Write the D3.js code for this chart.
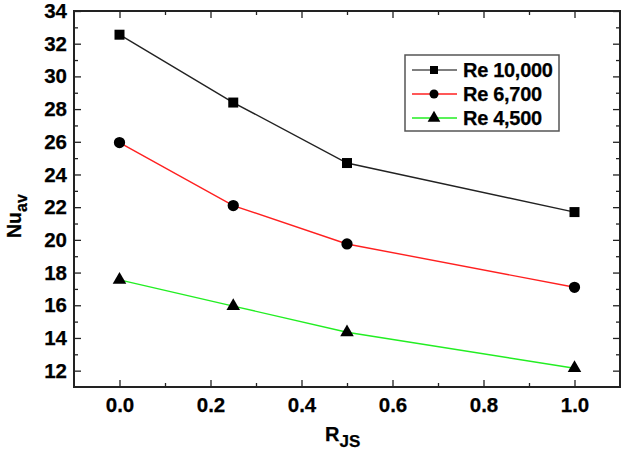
<!DOCTYPE html>
<html>
<head>
<meta charset="utf-8">
<script src="https://cdn.jsdelivr.net/npm/d3@7"></script>
<style>
  body { margin: 0; background: #fff; }
  text { font-family: "Liberation Sans", Arial, sans-serif; font-weight: bold; fill: #000; stroke: #000; stroke-width: 0.25px; }
</style>
</head>
<body>
<div id="chart"></div>
<script>
// data
const rjs = [0.0, 0.25, 0.5, 1.0];
const re10000 = [32.55, 28.4, 24.7, 21.7];
const re6700 = [25.95, 22.1, 19.75, 17.1];
const re4500 = [17.55, 15.95, 14.35, 12.15];
const seriesNames = ['Re 10,000', 'Re 6,700', 'Re 4,500'];
const xTicks = [0.0, 0.2, 0.4, 0.6, 0.8, 1.0];
const xMinor = [0.1, 0.3, 0.5, 0.7, 0.9];
const yTicks = [12, 14, 16, 18, 20, 22, 24, 26, 28, 30, 32, 34];
const yMinor = [13, 15, 17, 19, 21, 23, 25, 27, 29, 31, 33];

const width = 632, height = 454;
const margin = {top: 11, right: 12, bottom: 67, left: 74};
const innerWidth = width - margin.left - margin.right,
      innerHeight = height - margin.top - margin.bottom;

const series = [
  {name: seriesNames[0], values: re10000, color: '#222', legendColor: '#555', symbol: d3.symbolSquare, size: 100},
  {name: seriesNames[1], values: re6700, color: '#ff2020', legendColor: '#ff2020', symbol: d3.symbolCircle, size: 100},
  {name: seriesNames[2], values: re4500, color: '#22ee22', legendColor: '#22ee22', symbol: d3.symbolTriangle, size: 80}
];

const svg = d3.select('#chart').append('svg')
  .attr('width', width)
  .attr('height', height);

const chartInner = svg.append('g')
  .attr('transform', `translate(${margin.left}, ${margin.top})`);

const x = d3.scaleLinear().domain([-0.1, 1.1]).range([0, innerWidth]);
const y = d3.scaleLinear().domain([11, 34]).range([innerHeight, 0]);

// axes, ticks pointing inward
const fmtX = d3.format('.1f');
chartInner.append('g')
  .attr('transform', `translate(0, ${innerHeight})`)
  .call(d3.axisBottom(x).tickValues(xTicks).tickFormat(fmtX).tickSize(-7).tickPadding(10))
  .call(g => g.selectAll('text').attr('font-size', 20.5));
chartInner.append('g')
  .attr('transform', `translate(0, ${innerHeight})`)
  .call(d3.axisBottom(x).tickValues(xMinor).tickFormat('').tickSize(-4));
chartInner.append('g')
  .call(d3.axisTop(x).tickValues(xTicks).tickFormat('').tickSize(-7));
chartInner.append('g')
  .call(d3.axisTop(x).tickValues(xMinor).tickFormat('').tickSize(-4));

chartInner.append('g')
  .call(d3.axisLeft(y).tickValues(yTicks).tickSize(-7).tickPadding(7))
  .call(g => g.selectAll('text').attr('font-size', 20.5));
chartInner.append('g')
  .call(d3.axisLeft(y).tickValues(yMinor).tickFormat('').tickSize(-4));
chartInner.append('g')
  .attr('transform', `translate(${innerWidth}, 0)`)
  .call(d3.axisRight(y).tickValues(yTicks).tickFormat('').tickSize(-7));
chartInner.append('g')
  .attr('transform', `translate(${innerWidth}, 0)`)
  .call(d3.axisRight(y).tickValues(yMinor).tickFormat('').tickSize(-4));

chartInner.selectAll('.domain').remove();
chartInner.selectAll('.tick line').attr('stroke', '#222').attr('stroke-width', 1.3);

// frame
chartInner.append('rect')
  .attr('width', innerWidth)
  .attr('height', innerHeight)
  .attr('fill', 'none')
  .attr('stroke', '#222')
  .attr('stroke-width', 2);

// lines + markers
const line = d3.line()
  .x((d, i) => x(rjs[i]))
  .y(d => y(d));

series.forEach(s => {
  chartInner.append('path')
    .datum(s.values)
    .attr('d', line)
    .attr('fill', 'none')
    .attr('stroke', s.color)
    .attr('stroke-width', 1.4);
  chartInner.selectAll(null)
    .data(s.values)
    .join('path')
    .attr('d', d3.symbol().type(s.symbol).size(s.size))
    .attr('transform', (d, i) => `translate(${x(rjs[i])}, ${y(d)})`)
    .attr('fill', '#000');
});

// legend
const legend = svg.append('g').attr('transform', 'translate(405, 55)');
legend.append('rect')
  .attr('width', 154)
  .attr('height', 76)
  .attr('fill', '#fff')
  .attr('stroke', '#555')
  .attr('stroke-width', 1.5);
series.forEach((s, i) => {
  const row = legend.append('g').attr('transform', `translate(0, ${15 + i * 24})`);
  row.append('line')
    .attr('x1', 7).attr('x2', 52)
    .attr('stroke', s.legendColor)
    .attr('stroke-width', 1.4);
  row.append('path')
    .attr('d', d3.symbol().type(s.symbol).size(s.symbol === d3.symbolTriangle ? 70 : 64))
    .attr('transform', 'translate(29, 0)')
    .attr('fill', '#000');
  row.append('text')
    .attr('x', 58)
    .attr('y', 7)
    .attr('font-size', 20)
    .attr('letter-spacing', -0.3)
    .text(s.name);
});

// axis titles
const xt = svg.append('text')
  .attr('x', 325)
  .attr('y', 441)
  .attr('font-size', 20);
xt.append('tspan').text('R');
xt.append('tspan').attr('dy', 6).attr('font-size', 17).text('JS');

const yt = svg.append('text')
  .attr('transform', 'translate(21, 238) rotate(-90)')
  .attr('font-size', 19.5);
yt.append('tspan').text('Nu');
yt.append('tspan').attr('dy', 6).attr('font-size', 16).text('av');
</script>
</body>
</html>
